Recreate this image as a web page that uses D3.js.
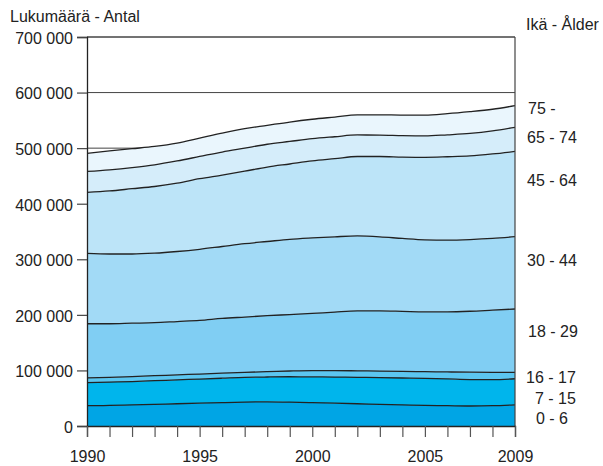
<!DOCTYPE html>
<html>
<head>
<meta charset="utf-8">
<script src="https://cdn.jsdelivr.net/npm/d3@7"></script>
<style>
  html, body { margin: 0; padding: 0; background: #fff; }
  svg { display: block; font-family: "Liberation Sans", Arial, sans-serif; }
</style>
</head>
<body>
<svg id="chart" width="603" height="466"></svg>
<script>
// ---- Data (population, thousands of persons) ----
const years = d3.range(1990, 2010);
const ageGroups = ["0 - 6", "7 - 15", "16 - 17", "18 - 29", "30 - 44", "45 - 64", "65 - 74", "75 -"];
const age0_6   = [36.5, 37, 38, 39, 40, 41, 42, 43, 43.5, 43, 42, 41, 40, 39, 38, 37, 36.5, 36, 36.5, 38];
const age7_15  = [41.5, 42, 42, 42.5, 43, 43.5, 44, 44.5, 44.7, 45.6, 46.5, 47, 47.6, 48, 48.4, 48.8, 48.3, 47.6, 47, 47];
const age16_17 = [8.5, 8.5, 9, 9, 9, 9, 9, 9, 9.6, 10.4, 11.2, 11.7, 11.7, 11.8, 11.9, 12, 12.5, 13.2, 13.1, 11.6];
const age18_29 = [97.5, 96.5, 96, 95.5, 96, 96.5, 98.5, 99.5, 100.7, 101.5, 102.8, 105.3, 107.7, 108.2, 108, 107.7, 108.2, 109.7, 111.9, 113.9];
const age30_44 = [126.7, 125.5, 124.5, 125, 126, 128, 129.5, 132, 133.5, 135.5, 136, 135.5, 135, 133.5, 131.2, 129.5, 129, 129, 129, 130.2];
const age45_64 = [109.8, 113.5, 117.5, 120, 123, 127, 128.5, 130.5, 134, 135.5, 138.5, 140.5, 143, 144.5, 146.5, 148.5, 150, 150.5, 152, 153.3];
const age65_74 = [37.5, 38, 38, 39, 40, 40, 41.5, 41.5, 41, 40.5, 40, 39.5, 38.7, 38.5, 38.5, 38.5, 39.5, 40.5, 41.5, 43.5];
const age75p   = [32.5, 34, 34, 33, 32, 33, 34, 35, 34, 35, 35, 35.5, 36.3, 36.5, 37, 37.5, 38, 39.1, 39, 39];
const yTicks = [0, 100000, 200000, 300000, 400000, 500000, 600000, 700000];
const xTickLabels = [1990, 1995, 2000, 2005, 2009];

const seriesValues = [age0_6, age7_15, age16_17, age18_29, age30_44, age45_64, age65_74, age75p];
const colors = ["#00a5e5", "#00b5ec", "#5cc6f0", "#80cef3", "#a2daf6", "#bce4f8", "#d5edfa", "#eaf6fd"];

const table = years.map((yr, i) => {
  const row = { year: yr };
  ageGroups.forEach((g, j) => { row[g] = seriesValues[j][i] * 1000; });
  return row;
});

const svg = d3.select("#chart");
const mLeft = 87, mRight = 515, mTop = 37, mBottom = 426;

const x = d3.scaleLinear().domain([1990, 2009]).range([mLeft, mRight]);
const y = d3.scaleLinear().domain([0, 700000]).range([mBottom, mTop]);

const layers = d3.stack().keys(ageGroups)(table);

// gridlines (under areas)
svg.append("g").selectAll("line").data(yTicks.filter(d => d > 0)).join("line")
  .attr("x1", mLeft).attr("x2", mRight)
  .attr("y1", d => y(d)).attr("y2", d => y(d))
  .attr("stroke", "#444").attr("stroke-width", 1);

const area = d3.area()
  .x(d => x(d.data.year))
  .y0(d => y(d[0]))
  .y1(d => y(d[1]))
  .curve(d3.curveMonotoneX);

const line = d3.line()
  .x(d => x(d.data.year))
  .y(d => y(d[1]))
  .curve(d3.curveMonotoneX);

svg.append("g").selectAll("path").data(layers).join("path")
  .attr("d", area)
  .attr("fill", (d, i) => colors[i]);

svg.append("g").selectAll("path").data(layers).join("path")
  .attr("d", line)
  .attr("fill", "none")
  .attr("stroke", "#222")
  .attr("stroke-width", 1.3);

svg.append("line").attr("x1", mRight).attr("x2", mRight).attr("y1", mTop).attr("y2", mBottom)
  .attr("stroke", "#444").attr("stroke-width", 1.2);
svg.append("line").attr("x1", mLeft).attr("x2", mRight).attr("y1", mTop).attr("y2", mTop)
  .attr("stroke", "#444").attr("stroke-width", 1);

// y axis
const yAxis = d3.axisLeft(y).tickValues(yTicks).tickSize(10).tickPadding(4)
  .tickFormat(d => d3.format(",")(d).replace(/,/g, " "));
const gy = svg.append("g").attr("transform", `translate(${mLeft},0)`).call(yAxis);
gy.select(".domain").attr("stroke", "#222").attr("stroke-width", 1.3);
gy.selectAll(".tick line").attr("stroke", "#444").attr("stroke-width", 1.2);
gy.selectAll(".tick text").attr("font-size", 16).attr("fill", "#222")
  .attr("font-family", "Liberation Sans, Arial, sans-serif").attr("dy", "0.4em");

// x axis
const xAxis = d3.axisBottom(x).tickValues(years).tickSize(11).tickPadding(14)
  .tickFormat(d => xTickLabels.includes(d) ? String(d) : "");
const gx = svg.append("g").attr("transform", `translate(0,${mBottom})`).call(xAxis);
gx.select(".domain").attr("stroke", "#222").attr("stroke-width", 1.3);
gx.selectAll(".tick line").attr("stroke", "#555").attr("stroke-width", 1.2);
gx.selectAll(".tick text").attr("font-size", 16).attr("fill", "#222")
  .attr("font-family", "Liberation Sans, Arial, sans-serif");

svg.append("text").attr("x", 10).attr("y", 22).attr("font-size", 16).attr("fill", "#222")
  .text("Lukumäärä - Antal");
svg.append("text").attr("x", 526).attr("y", 30).attr("font-size", 16).attr("fill", "#222")
  .text("Ikä - Ålder");

const labelPos = [
  { x: 536, y: 424 }, { x: 535, y: 404 }, { x: 526, y: 383 }, { x: 528, y: 337 },
  { x: 527, y: 266 }, { x: 527, y: 186 }, { x: 527, y: 143 }, { x: 528, y: 114 }
];
svg.append("g").selectAll("text").data(ageGroups).join("text")
  .attr("x", (d, i) => labelPos[i].x).attr("y", (d, i) => labelPos[i].y)
  .attr("font-size", 16).attr("fill", "#222")
  .text(d => d);
</script>
</body>
</html>
